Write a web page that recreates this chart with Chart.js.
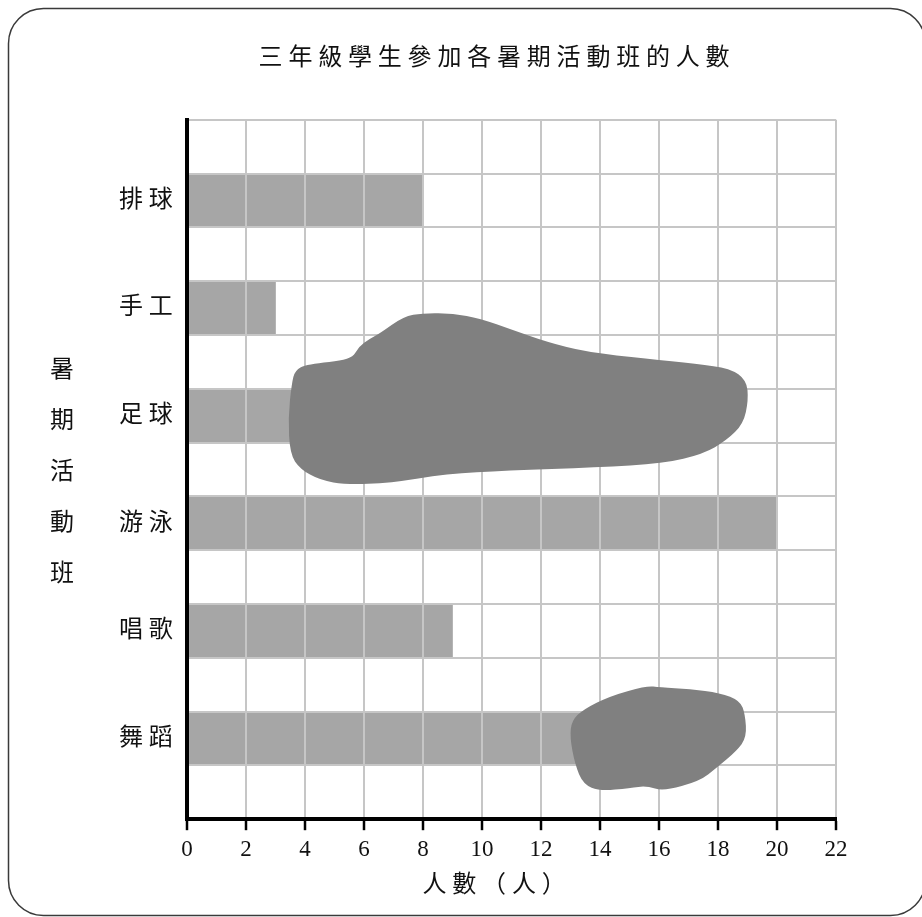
<!DOCTYPE html>
<html>
<head>
<meta charset="utf-8">
<title>三年級學生參加各暑期活動班的人數</title>
<script src="https://cdn.jsdelivr.net/npm/chart.js@4.4.1/dist/chart.umd.min.js"></script>
<style>
  html, body { margin: 0; padding: 0; background: #fff; overflow: hidden; }
  #wrap { position: relative; width: 922px; height: 917px; }
</style>
</head>
<body>
<div id="wrap"><canvas id="activityChart"></canvas></div>
<script>
// ==========================================
// data
// ==========================================
const chartTitle = "三年級學生參加各暑期活動班的人數";
const xAxisTitle = "人數（人）";
const yAxisTitle = "暑期活動班";

const categories = ["排球", "手工", "足球", "游泳", "唱歌", "舞蹈"];
// 足球 and 舞蹈 are hidden under ink blots in the picture, so these two are guesses
const counts = [8, 3, 14, 20, 9, 16];

const xMin = 0;
const xMax = 22;
const xStep = 2;

// ink blots, outline points as [value, row] (row 0 = top gap row)
const blotSoccer = [
    [3.66, 4.16], [4.06, 4.04], [5.58, 3.96], [5.81, 3.72], [6.20, 3.57], [6.54, 3.47],
    [7.33, 3.16], [8.01, 3.09], [9.03, 3.10], [9.93, 3.19], [11.06, 3.41], [12.19, 3.63],
    [13.55, 3.82], [15.58, 3.94], [17.28, 4.04], [18.41, 4.12], [18.97, 4.34], [19.03, 4.71],
    [18.86, 5.15], [18.29, 5.46], [17.50, 5.71], [16.15, 5.89], [13.89, 5.96], [10.84, 6.02],
    [8.80, 6.08], [6.88, 6.25], [5.41, 6.28], [4.51, 6.20], [3.83, 5.99], [3.49, 5.71],
    [3.43, 5.03], [3.55, 4.40]
];
const blotDance = [
    [13.04, 10.67], [13.43, 10.46], [14.34, 10.21], [15.58, 10.02], [16.03, 10.05],
    [17.05, 10.08], [18.07, 10.15], [18.75, 10.30], [18.92, 10.55], [18.97, 10.98],
    [18.63, 11.23], [17.96, 11.54], [17.39, 11.79], [16.15, 11.98], [15.58, 11.88],
    [15.02, 11.92], [14.00, 11.98], [13.43, 11.85], [13.15, 11.48], [12.98, 10.98]
];

// one empty row above each bar and below the last one
const rowLabels = [""];
const rowCounts = [null];
categories.forEach((name, i) => {
    rowLabels.push(name, "");
    rowCounts.push(counts[i], null);
});

const FONT = "'Liberation Serif', 'Noto Sans CJK TC', serif";
const INK = "#111111";
const GRID = "#c6c6c6";

// frame, letter spacing, blots and the upright y title
const paperPlugin = {
    id: "paper",
    beforeDraw(chart) {
        const ctx = chart.ctx;
        ctx.save();
        ctx.strokeStyle = "#3a3a3a";
        ctx.lineWidth = 1.5;
        ctx.beginPath();
        ctx.roundRect(8.5, 8.5, 917, 907, 35);
        ctx.stroke();
        ctx.restore();
        // title, subtitle and row names are spaced out
        ctx.letterSpacing = "5.8px";
    },
    beforeDatasetsDraw(chart) {
        chart.ctx.letterSpacing = "0px";
    },
    afterDraw(chart) {
        const ctx = chart.ctx;
        const xs = chart.scales.x;
        const ys = chart.scales.y;
        ctx.save();
        ctx.fillStyle = "#808080";
        [blotSoccer, blotDance].forEach(shape => {
            const pts = shape.map(([v, r]) => [xs.getPixelForValue(v), ys.getPixelForValue(r)]);
            const n = pts.length;
            const mid = (a, b) => [(a[0] + b[0]) / 2, (a[1] + b[1]) / 2];
            const start = mid(pts[n - 1], pts[0]);
            ctx.beginPath();
            ctx.moveTo(start[0], start[1]);
            for (let i = 0; i < n; i++) {
                const q = mid(pts[i], pts[(i + 1) % n]);
                ctx.quadraticCurveTo(pts[i][0], pts[i][1], q[0], q[1]);
            }
            ctx.closePath();
            ctx.fill();
        });

        ctx.fillStyle = INK;
        ctx.font = "24px " + FONT;
        ctx.textAlign = "center";
        ctx.textBaseline = "middle";
        const cy = (chart.chartArea.top + chart.chartArea.bottom) / 2 + 3;
        [...yAxisTitle].forEach((ch, i) => {
            ctx.fillText(ch, 62, cy + (i - 2) * 51);
        });
        ctx.restore();
    }
};

new Chart(document.getElementById("activityChart"), {
    type: "bar",
    data: {
        labels: rowLabels,
        datasets: [{
            label: "人數",
            data: rowCounts,
            backgroundColor: "#a6a6a6",
            borderWidth: 0,
            categoryPercentage: 1,
            barPercentage: 1
        }]
    },
    options: {
        indexAxis: "y",
        responsive: true,
        maintainAspectRatio: false,
        animation: false,
        layout: {
            padding: { left: 158, right: 86, top: 0, bottom: 0 }
        },
        plugins: {
            legend: { display: false },
            tooltip: { enabled: false },
            title: {
                display: true,
                text: chartTitle,
                color: INK,
                font: { family: FONT, size: 24, weight: "normal", lineHeight: 1.2 },
                padding: { top: 44, bottom: 47 }
            },
            subtitle: {
                display: true,
                position: "bottom",
                text: xAxisTitle,
                color: INK,
                font: { family: FONT, size: 24, weight: "normal", lineHeight: 1.2 },
                padding: { top: 7, bottom: 17 }
            }
        },
        scales: {
            x: {
                type: "linear",
                min: xMin,
                max: xMax,
                afterFit: s => { s.height = 45; },
                ticks: {
                    stepSize: xStep,
                    color: INK,
                    font: { family: FONT, size: 23 },
                    padding: 6,
                    z: 1
                },
                grid: {
                    color: GRID,
                    lineWidth: 2,
                    z: 1,
                    tickColor: "#000",
                    tickWidth: 2.5,
                    tickLength: 11
                },
                border: { color: "#000", width: 4, z: 2 }
            },
            y: {
                type: "category",
                offset: true,
                afterFit: s => { s.width = 29; },
                ticks: {
                    autoSkip: false,
                    // mirrored so the row names are not clipped to the narrow axis box
                    mirror: true,
                    padding: -68,
                    color: INK,
                    font: { family: FONT, size: 24 }
                },
                grid: {
                    offset: true,
                    color: GRID,
                    lineWidth: 2,
                    z: 1,
                    drawTicks: false
                },
                border: { color: "#000", width: 4, z: 2 }
            }
        }
    },
    plugins: [paperPlugin]
});
</script>
</body>
</html>
